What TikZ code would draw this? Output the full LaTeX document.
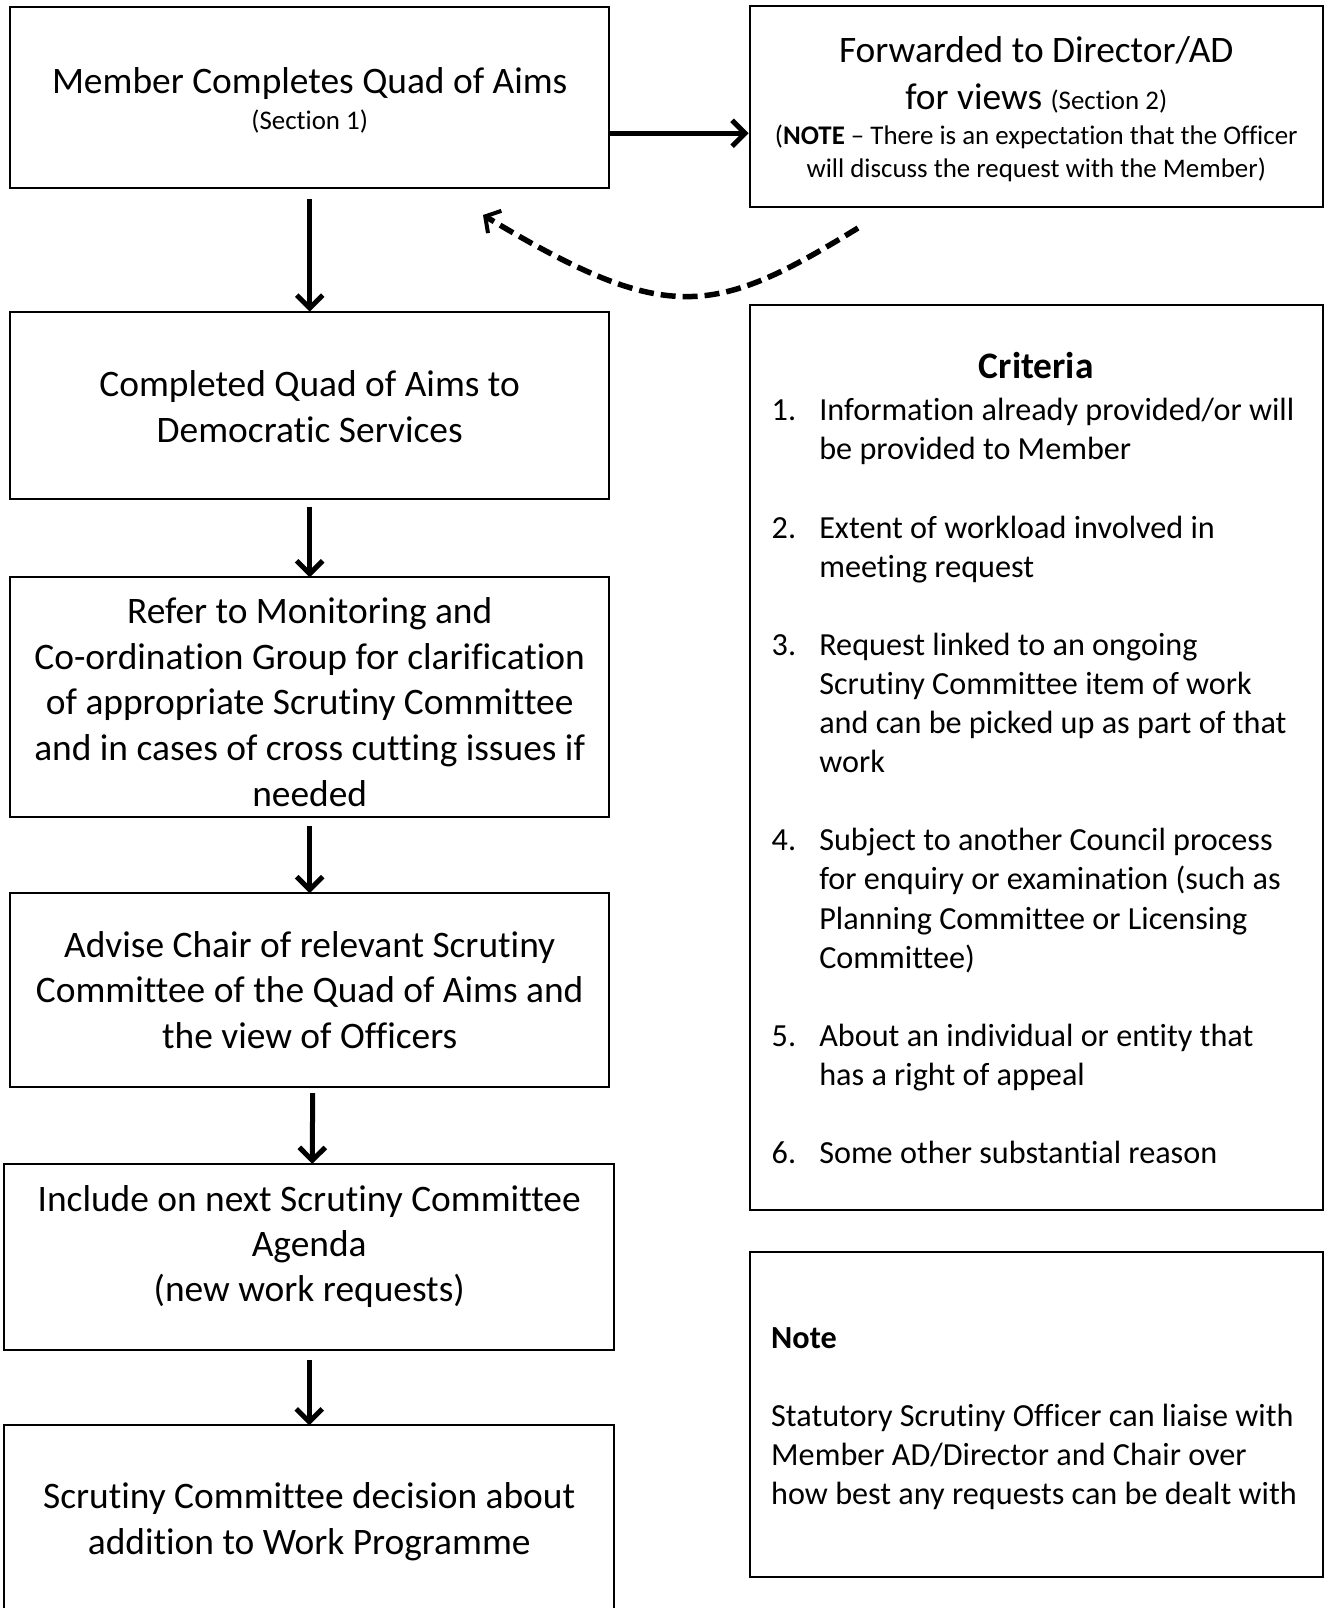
\documentclass[tikz,border=0pt]{standalone}
\usepackage{fontspec}
\setmainfont{Carlito}[Ligatures={TeX,NoCommon}]
\usetikzlibrary{arrows.meta}
\newcommand\FMain{\fontsize{37.4bp}{46bp}\selectfont}
\newcommand\FMid{\fontsize{32.2bp}{39bp}\selectfont}
\newcommand\FSml{\fontsize{26.9bp}{33bp}\selectfont}
\newcommand\cbox[2]{\vtop{\baselineskip=#1\lineskiplimit=-1000pt\lineskip=0pt\halign{\hfil##\hfil\cr#2\crcr}}}
\newcommand\lbox[2]{\vtop{\baselineskip=#1\lineskiplimit=-1000pt\lineskip=0pt\halign{##\hfil\cr#2\crcr}}}
\newcommand\nbox[2]{\vtop{\baselineskip=#1\lineskiplimit=-1000pt\lineskip=0pt\halign{\hbox to 47.6bp{##\hfil}&##\hfil\cr#2\crcr}}}
\begin{document}
\begin{tikzpicture}[x=1bp,y=-1bp,
  box/.style={draw=black, line width=2bp, rectangle, inner sep=0pt},
  txt/.style={anchor=base, inner sep=0pt, outer sep=0pt},
  arr/.style={line width=5bp, -{Straight Barb[length=13bp,width=26bp]}},
  darr/.style={line width=5.5bp, dash pattern=on 15bp off 7bp, -{Straight Barb[length=11bp,width=26bp,line width=4bp]}}]
\useasboundingbox (0,0) rectangle (1328,1608);
\clip (0,0) rectangle (1328,1608);
\fill[white] (0,0) rectangle (1328,1608);

% boxes
\node[box, minimum width=598.8bp, minimum height=180.5bp] (b1) at (309.7,97.45) {};
\node[box, minimum width=573.3bp, minimum height=200.8bp] (b2) at (1036.25,106.6) {};
\node[box, minimum width=598.8bp, minimum height=187.7bp] (b3) at (309.7,405.55) {};
\node[box, minimum width=598.8bp, minimum height=240bp] (b4) at (309.7,697.3) {};
\node[box, minimum width=598.8bp, minimum height=193.8bp] (b5) at (309.7,990.1) {};
\node[box, minimum width=610.2bp, minimum height=185.6bp] (b6) at (309.2,1256.7) {};
\node[box, minimum width=610.2bp, minimum height=204.6bp] (b7) at (309.2,1527.7) {};
\node[box, minimum width=573.3bp, minimum height=905.5bp] (crit) at (1036.25,757.35) {};
\node[box, minimum width=573.3bp, minimum height=325.1bp] (note) at (1036.25,1414.65) {};

% texts
\node[txt, font=\FMain] (t1) at (309.7,93.5) {\cbox{35.5bp}{Member Completes Quad of Aims\cr {\FSml (Section 1)}}};
\node[txt, font=\FMain] (t2) at (1036.25,62.8) {\cbox{32.5bp}{Forwarded to Director/AD\cr\noalign{\vskip13.7bp}
  for views {\FSml (Section 2)}\cr\noalign{\vskip3bp}
  {\FSml ({\bfseries NOTE} – There is an expectation that the Officer}\cr
  {\FSml will discuss the request with the Member)}}};
\node[txt, font=\FMain] (t3) at (309.7,396) {\cbox{46bp}{Completed Quad of Aims to\cr Democratic Services}};
\node[txt, font=\FMain] (t4) at (309.7,623.7) {\cbox{45.6bp}{Refer to Monitoring and\cr Co-ordination Group for clarification\cr of appropriate Scrutiny Committee\cr and in cases of cross cutting issues if\cr needed}};
\node[txt, font=\FMain] (t5) at (309.7,957) {\cbox{45.6bp}{Advise Chair of relevant Scrutiny\cr Committee of the Quad of Aims and\cr the view of Officers}};
\node[txt, font=\FMain] (t6) at (309.2,1211.3) {\cbox{45bp}{Include on next Scrutiny Committee\cr Agenda\cr (new work requests)}};
\node[txt, font=\FMain] (t7) at (309.2,1508.7) {\cbox{46bp}{Scrutiny Committee decision about\cr addition to Work Programme}};
\node[txt, font=\FMain\bfseries] (th) at (1036.25,378) {Criteria};
\node[txt, anchor=base west, font=\FMid] (tc) at (771.7,420.7) {\nbox{39.1bp}{%
1.&Information already provided/or will\cr &be provided to Member\cr &\cr
2.&Extent of workload involved in\cr &meeting request\cr &\cr
3.&Request linked to an ongoing\cr &Scrutiny Committee item of work\cr &and can be picked up as part of that\cr &work\cr &\cr
4.&Subject to another Council process\cr &for enquiry or examination (such as\cr &Planning Committee or Licensing\cr &Committee)\cr &\cr
5.&About an individual or entity that\cr &has a right of appeal\cr &\cr
6.&Some other substantial reason}};
\node[txt, anchor=base west, font=\FMid] (tn) at (771.2,1348) {\lbox{39.1bp}{{\bfseries Note}\cr {}\cr Statutory Scrutiny Officer can liaise with\cr Member AD/Director and Chair over\cr how best any requests can be dealt with}};

% connectors
\coordinate (h1) at ([yshift=-35.85bp]b1.east);
\draw[arr] (h1) -- (h1 -| b2.west);
\draw[arr] ([yshift=-10.3bp]b1.south) -- ([yshift=-1bp]b3.north);
\draw[arr] ([yshift=-6.2bp]b3.south) -- ([yshift=-1bp]b4.north);
\draw[arr] ([yshift=-7.2bp]b4.south) -- ([yshift=-1bp]b5.north);
\draw[arr] ([xshift=3bp,yshift=-5.2bp]b5.south) -- ([xshift=3bp,yshift=-1bp]b6.north);
\draw[arr] ([yshift=-9.3bp]b6.south) -- ([yshift=-1bp]b7.north);
\coordinate (ds) at (858,228);
\coordinate (de) at (483,215);
\draw[darr] (ds) .. controls (713,317) and (667,325.5) .. (de);
\end{tikzpicture}
\end{document}
